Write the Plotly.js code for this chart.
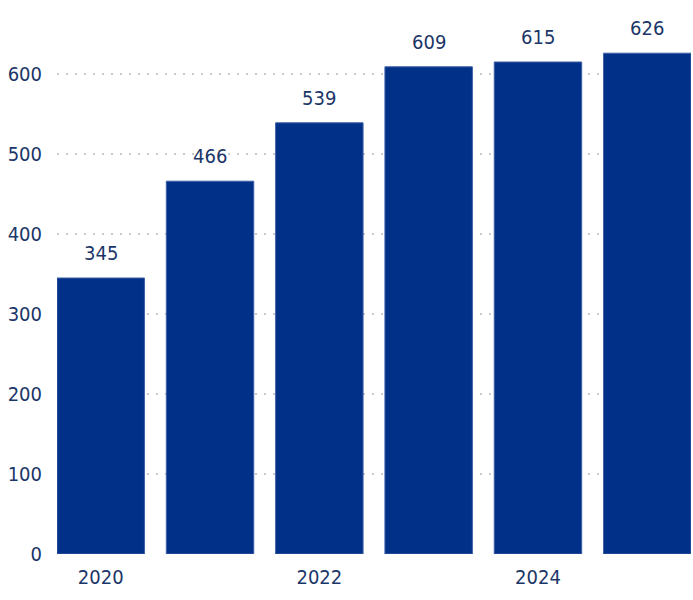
<!DOCTYPE html>
<html><head><meta charset="utf-8">
<script src="https://cdn.plot.ly/plotly-3.0.1.min.js"></script>
<style>html,body{margin:0;padding:0;background:#fff}</style>
</head><body>
<div id="chart" style="width:693px;height:600px"></div>
<script>
var years = ["2020","2021","2022","2023","2024","2025"];
var values = [345, 466, 539, 609, 615, 626];
var xTickLabels = ["2020","2022","2024"];
var yTickVals = [0,100,200,300,400,500,600];

var textColor = "#1b3668";
var fontFam = "'DejaVu Sans Condensed', 'DejaVu Sans', sans-serif";

var labels = values.map(function (v, i) {
  return {
    x: i, y: v, xref: "x", yref: "y",
    text: String(v), showarrow: false,
    xanchor: "center", yanchor: "bottom", yshift: 11,
    font: {family: fontFam, size: 20, color: textColor}
  };
});

Plotly.newPlot("chart", [{
  type: "bar",
  x: years,
  y: values,
  marker: {color: "#003087", line: {color: "#3d5fa8", width: 1}},
  hoverinfo: "skip"
}], {
  width: 693, height: 600,
  margin: {l: 57, r: 2, t: 10, b: 46},
  paper_bgcolor: "#fff", plot_bgcolor: "#fff",
  bargap: 0.2,
  showlegend: false,
  annotations: labels,
  font: {family: fontFam, size: 20, color: textColor},
  xaxis: {
    type: "category",
    range: [-0.4, 5.4],
    tickvals: xTickLabels,
    ticktext: xTickLabels,
    showgrid: false, zeroline: false, showline: false,
    ticks: "", ticklabelstandoff: 9,
    tickfont: {family: fontFam, size: 20, color: textColor}
  },
  yaxis: {
    range: [0, 680],
    tickvals: yTickVals,
    showgrid: true, gridcolor: "#c6c9cf", griddash: "2px,7px", gridwidth: 2,
    zeroline: false, showline: false,
    ticks: "", ticklabelstandoff: 14,
    tickfont: {family: fontFam, size: 20, color: textColor}
  }
}, {displayModeBar: false, staticPlot: true});
</script>
</body></html>
